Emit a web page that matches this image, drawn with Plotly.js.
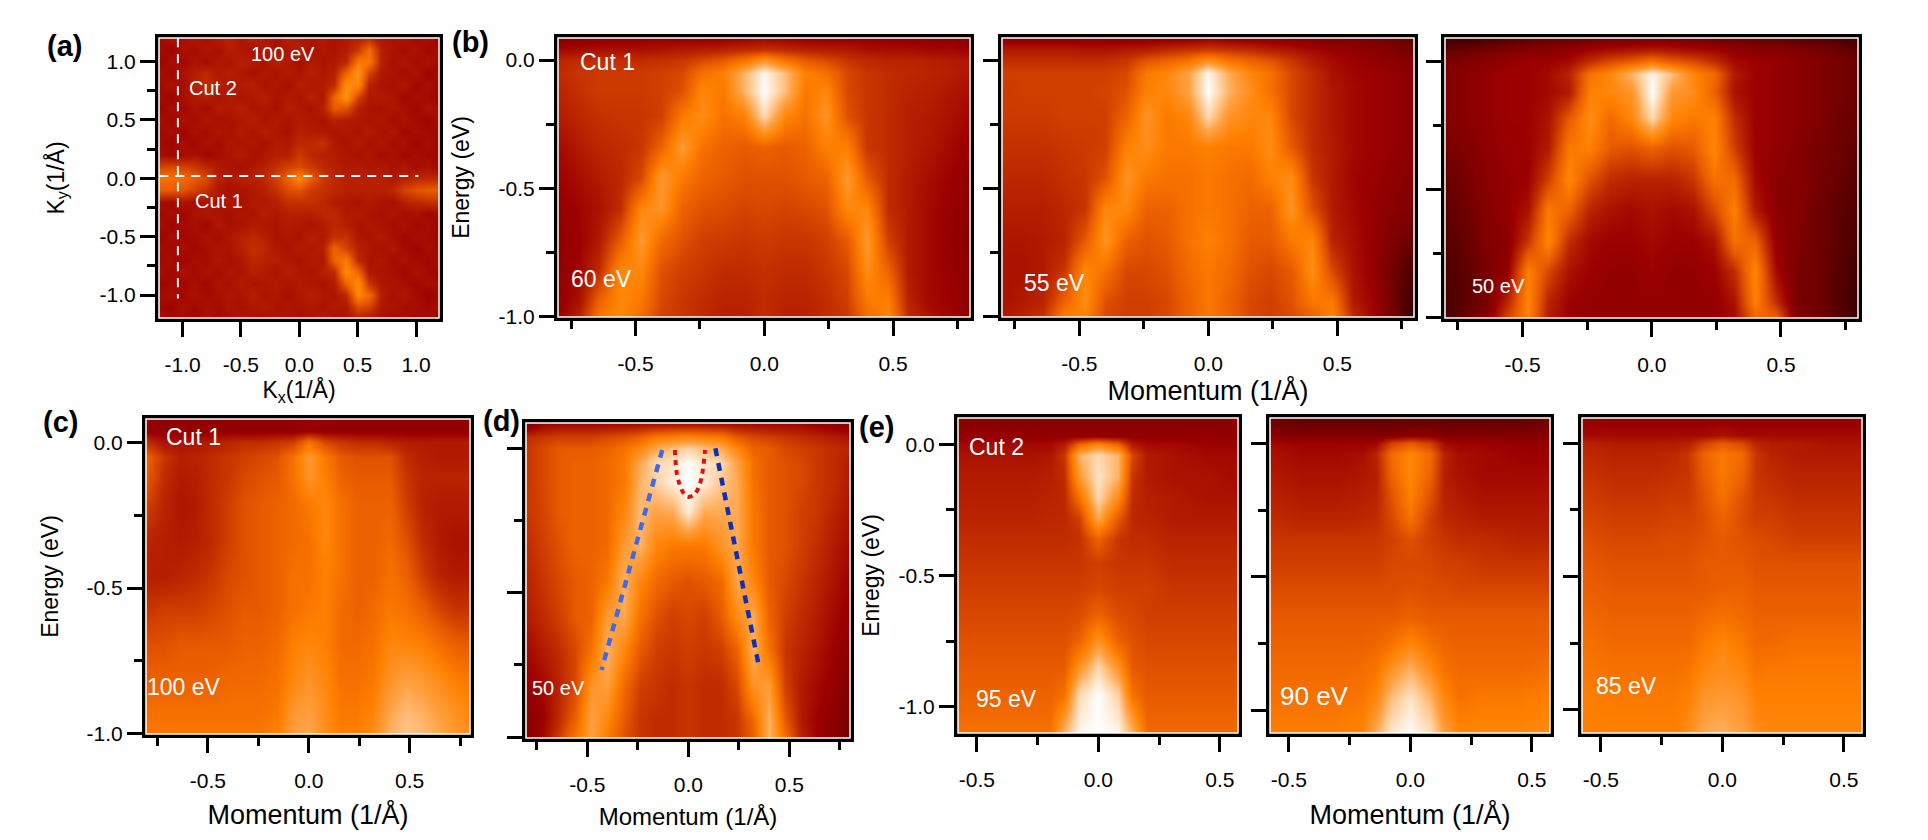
<!DOCTYPE html>
<html>
<head>
<meta charset="utf-8">
<script src="https://cdn.plot.ly/plotly-3.0.1.min.js"></script>
<style>
  html, body { margin: 0; padding: 0; background: #fff; overflow: hidden; }
</style>
</head>
<body>
<div id="graph" style="width:1928px;height:840px"></div>
<script>
// intensity values, 0 = black, 100 = white
const kCut1 = [-0.8,-0.72,-0.64,-0.56,-0.48,-0.4,-0.32,-0.24,-0.16,-0.08,0,0.08,0.16,0.24,0.32,0.4,0.48,0.56,0.64,0.72,0.8];
const eCut1 = [0.09,0.04,0,-0.05,-0.12,-0.22,-0.34,-0.46,-0.58,-0.7,-0.82,-0.94,-1.01];
const kCut2 = [-0.6,-0.45,-0.3,-0.2,-0.14,-0.08,0,0.08,0.14,0.2,0.3,0.45,0.6];
const eCut2 = [0.1,0.03,0,-0.04,-0.12,-0.2,-0.28,-0.36,-0.45,-0.55,-0.65,-0.75,-0.85,-0.95,-1.1];
const kxMap = [-1.2,-1.1,-1,-0.9,-0.8,-0.7,-0.6,-0.5,-0.4,-0.3,-0.2,-0.1,0,0.1,0.2,0.3,0.4,0.5,0.6,0.7,0.8,0.9,1,1.1,1.2];
const kyMap = [1.2,1.1,1,0.9,0.8,0.7,0.6,0.5,0.4,0.3,0.2,0.1,0,-0.1,-0.2,-0.3,-0.4,-0.5,-0.6,-0.7,-0.8,-0.9,-1,-1.1,-1.2];

const zMap = [
[44,47,45,48,46,49,50,47,50,48,46,50,48,47,49,46,48,50,52,47,46,48,44,46,43],
[45,43,47,45,48,46,50,48,46,49,47,48,50,46,48,47,49,56,68,50,47,45,47,44,46],
[43,46,44,47,45,48,47,50,49,47,50,48,46,49,47,48,52,72,72,50,46,48,45,47,44],
[46,44,47,49,52,48,50,48,46,48,47,49,47,50,48,50,66,80,58,48,47,45,47,43,45],
[44,47,45,50,53,50,48,49,50,47,48,46,50,48,49,52,78,76,50,47,46,48,44,46,44],
[45,43,46,48,50,47,49,47,48,50,47,49,47,50,48,66,80,58,48,49,47,44,46,45,43],
[43,46,44,47,45,49,48,50,47,48,46,50,48,47,50,64,62,50,47,46,48,46,44,47,45],
[46,44,47,45,48,46,47,48,50,47,49,47,49,48,47,50,49,48,47,48,45,47,45,43,46],
[44,46,43,47,45,48,46,49,47,50,48,46,50,49,48,47,48,47,49,46,48,44,46,45,44],
[45,43,46,44,47,45,48,47,48,46,49,48,52,52,54,48,47,49,46,48,45,47,43,46,44],
[46,44,45,47,44,46,47,49,46,48,50,50,56,52,50,49,48,46,48,45,47,44,46,44,45],
[58,60,58,56,52,48,47,46,48,50,54,58,60,56,52,50,48,49,47,48,46,48,45,47,44],
[70,70,68,64,60,50,48,50,50,52,58,66,76,64,56,52,50,50,50,50,48,50,52,52,52],
[64,64,62,58,54,48,46,47,48,50,54,60,62,56,54,52,50,50,50,50,52,58,62,64,64],
[46,44,47,45,47,46,48,46,49,48,50,54,54,54,52,49,48,47,49,47,46,50,52,54,54],
[44,46,44,47,48,47,46,48,47,50,48,50,50,50,52,52,48,49,47,46,48,45,47,44,46],
[46,43,45,46,44,48,46,47,49,48,47,49,48,47,49,52,50,47,48,47,45,47,44,46,43],
[43,46,44,45,47,45,48,50,52,50,47,48,47,50,48,54,54,48,47,49,46,44,46,45,44],
[45,44,46,44,46,47,47,50,54,52,48,47,49,48,50,66,58,50,48,46,48,45,43,46,44],
[44,46,43,46,45,48,46,48,52,50,50,48,47,49,48,66,72,52,47,48,45,47,45,44,46],
[46,44,47,45,47,45,48,47,50,49,47,50,48,47,50,52,78,66,48,47,46,44,47,45,43],
[43,45,44,46,44,47,46,49,47,48,49,47,49,48,47,49,66,78,54,48,47,46,44,46,45],
[45,46,44,47,45,46,48,47,50,47,48,46,48,50,48,47,52,76,68,49,46,48,45,43,44],
[44,43,46,44,46,45,47,46,48,49,47,48,47,48,47,49,48,60,58,48,47,45,46,44,46],
[46,44,45,43,47,44,46,48,47,46,48,47,46,47,49,46,47,50,48,46,45,47,44,46,43]];

const z60 = [
[34,36,37,38,38,38,38,38,38,39,40,39,38,38,38,38,38,38,37,36,34],
[42,43,44,44,44,45,46,47,48,50,52,50,48,47,46,44,43,43,42,42,40],
[48,50,50,50,50,51,52,56,60,66,76,66,60,56,52,49,48,48,47,46,45],
[50,52,53,53,53,54,56,66,70,84,98,86,70,66,56,52,50,49,48,47,45],
[48,51,53,53,53,54,58,72,68,84,100,86,68,72,56,52,50,48,47,45,43],
[46,49,51,52,52,54,68,74,66,70,92,72,66,76,58,52,50,47,46,44,41],
[42,46,49,50,52,62,78,66,62,60,62,60,62,70,70,52,50,47,45,42,39],
[40,43,46,49,56,78,68,62,60,58,58,58,60,62,78,60,50,46,43,40,37],
[38,41,44,50,72,76,62,58,57,55,56,55,56,58,72,72,50,46,42,39,36],
[37,40,46,60,78,64,58,54,53,52,53,52,52,54,60,78,54,46,42,38,36],
[38,41,50,72,72,58,54,52,50,50,51,50,50,52,56,74,62,46,42,39,36],
[38,44,62,72,68,56,52,50,48,48,50,48,48,50,54,68,70,48,42,40,36],
[40,48,68,72,64,54,52,49,47,47,50,47,47,50,52,64,72,50,44,41,37]];

const z55 = [
[36,36,36,36,36,36,36,36,36,36,38,36,36,36,34,34,32,32,32,30,26],
[46,46,46,46,45,45,46,47,50,52,54,52,50,47,45,42,40,38,36,34,30],
[50,50,50,50,50,50,52,58,62,66,74,66,62,58,52,46,42,40,38,36,34],
[54,54,54,54,54,54,56,68,72,80,98,82,72,66,56,50,44,41,40,38,36],
[53,54,54,54,54,55,58,70,72,80,100,84,74,66,56,50,45,42,40,38,36],
[53,53,53,54,54,54,62,76,68,72,92,76,72,72,56,50,45,42,40,38,36],
[51,51,51,52,53,54,70,74,68,68,70,68,68,74,60,50,46,42,40,38,36],
[49,49,49,51,52,58,76,68,66,66,68,66,64,70,74,52,46,41,39,37,35],
[47,47,47,49,52,72,72,62,62,66,68,66,62,62,76,58,46,42,38,36,32],
[45,45,46,48,60,76,62,58,60,66,70,66,60,60,68,72,48,43,38,33,28],
[44,44,46,52,72,66,56,56,58,64,68,64,58,56,60,74,56,44,38,30,20],
[44,46,48,62,74,58,54,54,56,62,68,62,56,54,58,68,68,46,40,30,16],
[45,48,52,70,70,56,54,54,56,62,68,62,56,54,56,60,72,50,40,30,14]];

const z50 = [
[16,18,22,24,26,28,30,30,32,32,32,32,32,30,30,28,28,26,24,22,18],
[28,30,32,34,36,36,38,42,44,46,48,46,44,42,38,36,36,34,32,30,26],
[32,34,36,38,40,40,42,50,56,60,66,60,56,50,42,40,38,36,34,32,28],
[34,36,38,40,40,42,48,66,72,84,98,86,72,64,46,40,38,36,34,32,28],
[34,36,38,40,40,42,46,70,72,76,100,78,74,62,44,40,38,36,34,32,28],
[34,36,38,40,40,44,60,74,64,72,92,72,68,70,50,40,38,36,34,30,28],
[32,34,37,39,40,46,68,70,60,58,62,58,60,72,54,40,38,35,32,30,26],
[28,32,36,38,40,54,72,58,50,48,48,48,52,66,64,42,36,35,32,28,24],
[26,30,35,38,44,68,62,48,44,42,44,42,44,56,70,46,36,35,30,26,22],
[24,28,34,36,52,72,50,42,40,40,42,40,40,44,66,62,38,34,30,26,20],
[22,26,32,38,70,56,44,40,38,38,40,38,38,40,50,72,42,32,30,24,18],
[20,26,32,48,72,48,40,38,38,38,38,38,38,38,44,70,50,32,30,24,16],
[20,28,34,56,70,46,40,38,38,38,38,38,38,38,42,62,64,34,30,24,16]];

const z100 = [
[38,38,38,38,38,38,38,38,38,38,38,38,38,38,38,38,38,38,38,38,38],
[38,38,38,38,38,38,38,38,38,38,40,38,38,38,38,38,38,38,38,38,38],
[50,44,44,45,46,48,50,50,52,54,66,56,52,50,50,48,46,46,46,46,46],
[62,52,47,48,50,52,54,56,58,66,78,68,60,58,58,58,50,47,46,46,46],
[60,50,46,47,50,52,56,58,60,66,76,70,62,60,60,60,52,48,48,48,48],
[54,48,45,46,50,54,58,60,62,64,68,72,66,62,62,62,54,48,46,46,46],
[48,47,46,47,50,54,58,60,62,64,66,72,66,62,62,64,58,50,46,44,44],
[47,47,48,50,52,56,58,60,62,66,66,70,66,62,62,66,62,54,48,46,46],
[52,54,54,54,56,58,60,60,62,66,68,70,64,62,64,68,66,62,56,52,52],
[58,58,60,60,60,60,62,62,64,70,72,70,64,64,66,72,72,70,66,62,60],
[62,62,62,62,62,64,64,64,66,72,76,72,66,66,68,76,80,78,74,70,68],
[66,66,66,66,66,66,66,66,68,78,80,74,68,68,72,82,86,84,80,76,72],
[68,68,68,68,68,68,68,68,70,80,82,74,70,70,74,84,88,86,82,78,74]];

const z50d = [
[30,38,40,40,40,40,40,40,40,40,40,40,40,40,40,40,40,40,38,36,34],
[50,52,54,54,54,56,58,62,68,70,72,70,68,60,56,54,52,50,48,46,44],
[52,56,60,60,60,62,66,72,82,86,90,86,82,72,62,60,56,54,52,50,48],
[52,56,60,62,62,64,68,82,92,94,100,94,92,80,66,60,58,56,52,50,46],
[52,56,60,62,62,64,68,84,90,96,100,96,88,82,66,60,58,56,52,50,46],
[52,55,60,62,62,64,72,86,80,82,96,82,82,82,68,60,58,54,52,48,44],
[50,54,58,62,62,64,78,84,72,68,68,68,76,82,68,60,58,54,50,46,42],
[48,52,56,60,62,68,84,72,64,60,58,60,64,82,72,60,56,52,48,44,40],
[46,50,54,60,62,78,82,66,58,54,56,54,60,74,82,62,54,50,46,42,38],
[42,46,50,56,66,84,72,60,54,52,54,52,54,62,84,66,52,48,44,40,36],
[38,42,48,56,76,80,64,54,52,50,52,50,50,56,76,78,54,46,42,38,34],
[36,40,50,62,80,72,60,52,50,50,52,50,50,52,64,84,60,46,40,36,32],
[36,42,54,68,80,68,58,52,50,50,52,50,50,52,60,84,66,48,40,36,32]];

const z95 = [
[36,36,36,36,36,36,36,36,36,36,36,36,36],
[38,38,38,38,38,38,38,38,38,38,38,38,38],
[42,42,42,42,46,62,72,62,46,42,42,40,40],
[44,44,44,45,52,84,92,84,56,46,44,42,42],
[46,46,46,47,50,78,94,84,52,46,44,44,42],
[47,47,47,48,49,66,92,74,50,47,46,44,44],
[48,48,48,49,49,54,82,60,49,48,46,46,46],
[50,50,50,50,50,51,62,52,50,50,48,48,48],
[52,52,52,52,52,52,54,52,52,52,50,50,50],
[54,54,54,54,54,54,56,54,54,54,52,52,52],
[56,56,56,56,56,57,62,57,56,54,54,54,54],
[58,58,58,58,58,62,76,62,58,56,56,56,56],
[60,60,60,60,60,76,92,76,60,58,58,58,58],
[62,62,62,62,66,92,100,90,66,60,60,60,60],
[66,66,66,66,84,98,100,98,84,64,64,64,64]];

const z90 = [
[28,26,26,26,26,26,26,26,26,26,26,26,30],
[36,34,34,34,34,34,36,36,34,34,34,34,36],
[42,40,40,40,41,54,60,54,42,40,40,38,38],
[44,42,42,43,48,64,72,64,48,43,42,40,40],
[46,44,44,45,47,62,72,62,47,44,42,42,42],
[48,46,46,47,48,58,70,58,48,46,44,44,44],
[50,48,48,49,50,56,66,54,49,48,46,46,46],
[52,52,52,52,52,54,58,54,52,50,50,48,48],
[54,54,54,54,54,56,56,56,54,54,52,52,52],
[57,57,57,57,57,57,58,57,57,56,56,56,56],
[60,60,60,60,60,60,62,60,60,60,60,60,60],
[62,62,62,62,63,66,72,66,63,62,62,62,62],
[64,64,64,65,67,76,84,74,66,64,64,64,66],
[66,66,66,67,72,86,94,84,72,66,68,68,70],
[70,70,70,72,84,96,100,94,80,72,72,72,74]];

const z85 = [
[38,38,38,38,38,38,38,38,38,38,38,38,38],
[42,42,42,42,42,42,44,42,42,42,42,42,42],
[48,46,46,46,47,54,60,56,48,46,46,44,44],
[50,48,48,49,52,62,68,64,52,48,46,46,46],
[52,50,50,51,52,60,68,62,52,50,48,48,48],
[54,52,52,53,53,58,66,58,53,52,50,50,50],
[56,54,54,55,55,57,62,57,54,54,52,52,52],
[58,56,56,57,57,58,60,58,57,56,54,54,54],
[60,58,58,58,58,60,60,60,58,58,58,58,58],
[62,60,60,60,60,60,62,62,60,60,60,60,60],
[64,62,62,62,62,64,66,64,62,62,62,62,62],
[66,64,64,64,64,68,72,68,64,64,66,66,66],
[68,66,66,66,67,72,74,72,67,68,68,68,68],
[70,68,68,68,70,76,78,76,70,70,70,70,70],
[70,70,70,70,74,82,84,80,74,72,72,72,72]];

// guide lines
const cut1X = [-1.2,1.02], cut1Y = [0.02,0.02];
const cut2X = [-1.04,-1.04], cut2Y = [1.2,-1.03];
const leftBandK = [-0.129,-0.429], leftBandE = [-0.006,-0.767];
const rightBandK = [0.134,0.351], rightBandE = [0,-0.761];
const pocketK = [-0.066,-0.05,-0.008,0.028,0.058,0.083], pocketE = [-0.006,-0.11,-0.167,-0.161,-0.122,-0.006];

const hot = [[0,'#000000'],[0.25,'#5a0000'],[0.4,'#9c0000'],[0.5,'#c02c00'],[0.6,'#e85a00'],[0.7,'#ff8000'],[0.8,'#ffa040'],[0.9,'#ffd0a0'],[1,'#ffffff']];
const W = 1928, H = 840;
const font = 'Liberation Sans, Arial, sans-serif';

const kTicks5 = [-1,-0.5,0,0.5,1];
const eTicks = [0,-0.5,-1];
const eMinor = [-0.25,-0.75];
const kTicks = [-0.5,0,0.5];
const kMinorB = [-0.75,-0.25,0.25,0.75];
const kMinorE = [-0.25,0.25];

// box = inner pixel rectangle [left,right,top,bottom]
const panels = [
  {z:zMap, zmax:106, x:kxMap, y:kyMap, box:[159,439,38,318], xr:[-1.202,1.197], yr:[-1.197,1.202], xt:kTicks5, xm:[], yt:[1,0.5,0,-0.5,-1], ym:[0.75,0.25,-0.25,-0.75], yl:true,
   xtitle:'K<sub>x</sub>(1/Å)', xs:23, xo:3, ytitle:'K<sub>y</sub>(1/Å)', ys:23, yo:30},
  {z:z60, x:kCut1, y:eCut1, box:[558,970,38,317], xr:[-0.801,0.799], yr:[-1.002,0.086], xt:kTicks, xm:kMinorB, yt:eTicks, ym:eMinor, yl:true, ytitle:'Energy (eV)', ys:23, yo:24},
  {z:z55, x:kCut1, y:eCut1, box:[1002,1414,38,317], xr:[-0.8,0.797], yr:[-1.002,0.086], xt:kTicks, xm:kMinorB, yt:eTicks, ym:eMinor, yl:false, xtitle:'Momentum (1/Å)', xs:27, xo:1},
  {z:z50, x:kCut1, y:eCut1, box:[1445,1858,38,318], xr:[-0.8,0.798], yr:[-1.002,0.091], xt:kTicks, xm:kMinorB, yt:eTicks, ym:eMinor, yl:false},
  {z:z100, x:kCut1, y:eCut1, box:[146,470,419,734], xr:[-0.807,0.799], yr:[-1.001,0.08], xt:kTicks, xm:kMinorB, yt:eTicks, ym:eMinor, yl:true, xtitle:'Momentum (1/Å)', xs:27, xo:15, ytitle:'Energy (eV)', ys:23, yo:23},
  {z:z50d, x:kCut1, y:eCut1, box:[526,850,423,738], xr:[-0.803,0.8], yr:[-1.003,0.0875], xt:kTicks, xm:kMinorB, yt:eTicks, ym:eMinor, yl:false, xtitle:'Momentum (1/Å)', xs:24, xo:14},
  {z:z95, x:kCut2, y:eCut2, box:[958,1238,418,733], xr:[-0.578,0.575], yr:[-1.099,0.1], xt:kTicks, xm:kMinorE, yt:eTicks, ym:eMinor, yl:true, ytitle:'Enregy (eV)', ys:23, yo:14},
  {z:z90, x:kCut2, y:eCut2, box:[1270,1550,418,733], xr:[-0.578,0.575], yr:[-1.085,0.095], xt:kTicks, xm:kMinorE, yt:eTicks, ym:eMinor, yl:false, xtitle:'Momentum (1/Å)', xs:27, xo:16},
  {z:z85, x:kCut2, y:eCut2, box:[1582,1862,418,733], xr:[-0.578,0.575], yr:[-1.088,0.095], xt:kTicks, xm:kMinorE, yt:eTicks, ym:eMinor, yl:false}
];

// text inside the panels: panel index, k, e, text, size
const notes = [
  [0,-0.14,1.065,'100 eV',20],[0,-0.74,0.77,'Cut 2',20],[0,-0.688,-0.195,'Cut 1',20],
  [1,-0.607,-0.007,'Cut 1',23],[1,-0.633,-0.854,'60 eV',23],
  [2,-0.596,-0.868,'55 eV',23],
  [3,-0.594,-0.877,'50 eV',20],
  [4,-0.574,0.019,'Cut 1',23],[4,-0.62,-0.84,'100 eV',23],
  [5,-0.644,-0.83,'50 eV',20],
  [6,-0.42,-0.009,'Cut 2',23],[6,-0.379,-0.971,'95 eV',23],
  [7,-0.393,-0.946,'90 eV',26],
  [8,-0.396,-0.912,'85 eV',23]
];

// panel letters, pixel centres
const letters = [['(a)',64,46],['(b)',470,42],['(c)',60,422],['(d)',501,421],['(e)',876,427]];

const suffix = i => (i === 0 ? '' : String(i + 1));
const data = [], shapes = [], annotations = [];
const layout = {
  width: W, height: H, margin: {l:0, r:0, t:0, b:0},
  paper_bgcolor: '#fff', plot_bgcolor: '#fff', showlegend: false,
  font: {family: font, color: '#000'}
};

panels.forEach((p, i) => {
  const s = suffix(i);
  data.push({type:'heatmap', x:p.x, y:p.y, z:p.z, xaxis:'x'+s, yaxis:'y'+s, zmin:0, zmax:p.zmax || 100,
    colorscale:hot, showscale:false, zsmooth:'best', hoverinfo:'skip'});
  const common = {
    showgrid:false, zeroline:false, showline:true, mirror:true, linecolor:'#000', linewidth:4,
    ticks:'outside', ticklen:15, tickwidth:3, tickcolor:'#000', tickmode:'array',
    tickfont:{family:font, size:21, color:'#000'}
  };
  layout['xaxis'+s] = Object.assign({}, common, {
    domain:[p.box[0]/W, p.box[1]/W], range:p.xr, anchor:'y'+s, ticklabelstandoff:10,
    tickvals:p.xt, ticktext:p.xt.map(v => v.toFixed(1)),
    minor:{tickmode:'array', tickvals:p.xm, ticks:'outside', ticklen:8, tickwidth:3, tickcolor:'#000', showgrid:false}
  });
  layout['yaxis'+s] = Object.assign({}, common, {
    domain:[1-p.box[3]/H, 1-p.box[2]/H], range:p.yr, anchor:'x'+s,
    tickvals:p.yt, ticktext:p.yt.map(v => v.toFixed(1)), showticklabels:p.yl,
    minor:{tickmode:'array', tickvals:p.ym, ticks:'outside', ticklen:8, tickwidth:3, tickcolor:'#000', showgrid:false}
  });
  if (p.xtitle) layout['xaxis'+s].title = {text:p.xtitle, font:{family:font, size:p.xs, color:'#000'}, standoff:p.xo};
  if (p.ytitle) layout['yaxis'+s].title = {text:p.ytitle, font:{family:font, size:p.ys, color:'#000'}, standoff:p.yo};
  // thin white line just inside the black frame
  shapes.push({type:'rect', xref:'x'+s+' domain', yref:'y'+s+' domain', x0:0, x1:1, y0:0, y1:1, line:{color:'#fff', width:1.5}, layer:'above'});
});

function guide(x, y, s, color, width, dash, shape) {
  data.push({type:'scatter', mode:'lines', x:x, y:y, xaxis:'x'+s, yaxis:'y'+s, hoverinfo:'skip',
    line:{color:color, width:width, dash:dash, shape:shape || 'linear'}});
}
guide(cut1X, cut1Y, '', '#fff', 2, '9px,7px');
guide(cut2X, cut2Y, '', '#fff', 2, '9px,7px');
guide(leftBandK, leftBandE, '6', '#4169e1', 4.5, '8px,7px');
guide(rightBandK, rightBandE, '6', '#1030b4', 4.5, '8px,7px');
guide(pocketK, pocketE, '6', '#e01010', 4, '5px,5px', 'spline');

notes.forEach(n => {
  const s = suffix(n[0]);
  annotations.push({xref:'x'+s, yref:'y'+s, x:n[1], y:n[2], text:n[3], showarrow:false,
    xanchor:'center', yanchor:'middle', font:{family:font, size:n[4], color:'#fff'}});
});
letters.forEach(l => {
  annotations.push({xref:'paper', yref:'paper', x:l[1]/W, y:1-l[2]/H, text:'<b>'+l[0]+'</b>', showarrow:false,
    xanchor:'center', yanchor:'middle', font:{family:font, size:29, color:'#000'}});
});

layout.shapes = shapes;
layout.annotations = annotations;
Plotly.newPlot('graph', data, layout, {displayModeBar:false, responsive:false});
</script>
</body>
</html>
